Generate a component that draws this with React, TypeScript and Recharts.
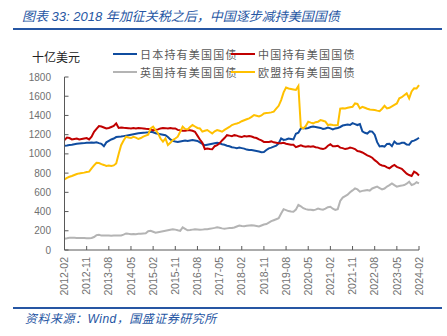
import { LineChart, Line, XAxis, YAxis } from 'recharts';

// monthly, 2012-02 .. 2024-02
const startYear = 2012;
const startMonth = 2;
const monthCount = 145;

const months: string[] = [];
for (let i = 0; i < monthCount; i++) {
  const m = startMonth - 1 + i;
  const y = startYear + Math.floor(m / 12);
  months.push(`${y}-${String((m % 12) + 1).padStart(2, '0')}`);
}

const japan = [
  1085, 1088, 1092, 1095, 1100, 1105, 1108, 1110, 1112, 1115, 1117,
  1118, 1115, 1120, 1112, 1105, 1080, 1120, 1135, 1150, 1160, 1175, 1178,
  1180, 1185, 1190, 1195, 1200, 1205, 1210, 1215, 1218, 1220, 1222, 1225,
  1230, 1225, 1215, 1210, 1205, 1200, 1195, 1175, 1150, 1135, 1128, 1125,
  1130, 1135, 1140, 1135, 1140, 1145, 1140, 1135, 1120, 1105, 1090, 1095,
  1100, 1105, 1110, 1115, 1110, 1100, 1095, 1085, 1080, 1070, 1065, 1060,
  1065, 1060, 1055, 1045, 1040, 1040, 1035, 1030, 1025, 1018, 1020, 1040,
  1058, 1065, 1075, 1085, 1110, 1160, 1145, 1150, 1160, 1155, 1150, 1210,
  1220, 1265, 1270, 1265, 1270, 1280, 1285, 1280, 1275, 1270, 1260, 1265,
  1275, 1265, 1255, 1265, 1270, 1280, 1295, 1300, 1305, 1300, 1320, 1310,
  1300, 1310, 1235, 1220, 1212, 1235, 1232, 1200, 1122, 1078, 1082, 1076,
  1104, 1106, 1081, 1128, 1106, 1105, 1116, 1115, 1097, 1095, 1131, 1138,
  1150, 1168,
];

const china = [
  1145, 1170, 1165, 1150, 1155, 1160, 1150, 1155, 1160, 1165, 1150,
  1180, 1230, 1260, 1290, 1285, 1275, 1265, 1270, 1280, 1290, 1317, 1270,
  1275, 1272, 1270, 1268, 1265, 1268, 1265, 1270, 1268, 1265, 1262, 1260,
  1255, 1245, 1250, 1255, 1265, 1270, 1268, 1265, 1270, 1265, 1265, 1250,
  1245, 1240, 1240, 1245, 1245, 1240, 1230, 1190, 1150, 1115, 1050, 1055,
  1050, 1048, 1080, 1090, 1110, 1140, 1165, 1195, 1190, 1185, 1195, 1190,
  1180, 1175, 1185, 1180, 1185, 1180, 1170, 1165, 1150, 1140, 1125, 1125,
  1125, 1130, 1120, 1115, 1110, 1110, 1115, 1105, 1100, 1095, 1095, 1070,
  1080, 1090, 1080, 1075, 1080, 1075, 1080, 1070, 1065, 1055, 1050, 1060,
  1085, 1100, 1080, 1080, 1085, 1065, 1060, 1050, 1055, 1065, 1060, 1050,
  1030, 1025, 1015, 1000, 985, 975, 960, 935, 915, 890, 880, 875,
  860, 850, 870, 885, 865, 855, 845, 820, 795, 780, 770, 815,
  800, 775,
];

const uk = [
  118, 122, 127, 128, 127, 126, 126, 125, 124, 123, 122,
  125, 135, 155, 158, 150, 152, 150, 150, 148, 150, 152, 150,
  152, 160, 172, 168, 165, 167, 165, 168, 170, 172, 173, 195,
  200, 190, 180, 185, 190, 195, 200, 205, 210, 215, 212, 205,
  200, 235, 220, 205, 208, 212, 215, 213, 210, 212, 215, 215,
  220, 225, 230, 236, 232, 225, 222, 225, 228, 230, 235, 245,
  255, 250, 248, 252, 255, 258, 255, 250, 245, 255, 265, 270,
  285, 300, 310, 320, 330, 380, 425, 415, 405, 400, 398, 420,
  470, 455, 435, 425, 420, 418, 415, 420, 432, 425, 420, 430,
  445, 450, 430, 418, 425, 510, 545, 560, 575, 600, 620, 641,
  630, 607, 615, 620, 625, 618, 640, 650, 659, 645, 631, 640,
  660, 675, 693, 675, 659, 665, 670, 676, 690, 711, 676, 685,
  705, 693,
];

const eu = [
  735, 750, 762, 770, 780, 790, 797, 800, 805, 811, 815,
  849, 880, 908, 905, 894, 885, 874, 878, 875, 880, 901, 1000,
  1090, 1140, 1178, 1170, 1165, 1178, 1170, 1155, 1165, 1180, 1190, 1200,
  1265, 1283, 1248, 1213, 1160, 1127, 1160, 1092, 1115, 1144, 1160, 1179,
  1230, 1283, 1260, 1255, 1280, 1300, 1285, 1270, 1265, 1231, 1240, 1248,
  1230, 1213, 1235, 1248, 1240, 1231, 1250, 1265, 1280, 1300, 1310, 1317,
  1325, 1340, 1350, 1360, 1370, 1385, 1404, 1397, 1390, 1400, 1421, 1425,
  1428, 1432, 1440, 1470, 1500, 1560, 1640, 1690, 1680, 1675, 1670, 1665,
  1706, 1280, 1265, 1290, 1335, 1325, 1318, 1330, 1335, 1352, 1345, 1335,
  1300, 1305, 1300, 1298, 1300, 1470, 1475, 1473, 1480, 1485, 1490, 1525,
  1520, 1473, 1490, 1480, 1470, 1462, 1458, 1456, 1450, 1445, 1470, 1500,
  1473, 1480, 1495, 1510, 1525, 1578, 1590, 1610, 1630, 1578, 1650, 1682,
  1680, 1716,
];

const yTicks = [0, 200, 400, 600, 800, 1000, 1200, 1400, 1600, 1800];

const series = [
  { key: 'japan', name: '日本持有美国国债', color: '#0f4c9f' },
  { key: 'china', name: '中国持有美国国债', color: '#c00000' },
  { key: 'uk', name: '英国持有美国国债', color: '#b4b4b4' },
  { key: 'eu', name: '欧盟持有美国国债', color: '#ffc000' },
];

const data = months.map((m, i) => ({
  month: m,
  japan: japan[i],
  china: china[i],
  uk: uk[i],
  eu: eu[i],
}));

const FONT = '"Liberation Sans", Arial, "Noto Sans CJK SC", sans-serif';
const BLUE = '#2656a3';

const XTick = (props: any) => {
  const { x, y, payload } = props;
  return (
    <text
      x={x}
      y={y}
      transform={`rotate(-90 ${x} ${y})`}
      textAnchor="end"
      dy="0.35em"
      fontSize={10.5}
      fill="#707070"
      fontFamily={FONT}
    >
      {payload.value}
    </text>
  );
};

export default function App() {
  return (
    <div
      style={{
        position: 'absolute',
        left: 0,
        top: 0,
        width: 447,
        height: 336,
        background: '#fff',
        fontFamily: FONT,
      }}
    >
      <div
        style={{
          position: 'absolute',
          left: 22,
          top: 6,
          fontSize: 13,
          fontStyle: 'italic',
          color: BLUE,
          whiteSpace: 'pre',
        }}
      >
        图表 33: 2018 年加征关税之后，中国逐步减持美国国债
      </div>
      <div style={{ position: 'absolute', left: 13, top: 28, width: 429, height: 2, background: BLUE }} />

      <div style={{ position: 'absolute', left: 32, top: 48, fontSize: 12, color: '#222', whiteSpace: 'nowrap' }}>
        十亿美元
      </div>

      {series.map((s, i) => (
        <div
          key={s.key}
          style={{
            position: 'absolute',
            left: i % 2 === 0 ? 113 : 231,
            top: i < 2 ? 47 : 65,
            display: 'flex',
            alignItems: 'center',
            height: 14,
            whiteSpace: 'nowrap',
          }}
        >
          <div style={{ width: 24, height: 2, background: s.color }} />
          <span style={{ marginLeft: 3, fontSize: 11, letterSpacing: 1.2, color: '#595959' }}>{s.name}</span>
        </div>
      ))}

      <div style={{ position: 'absolute', left: 0, top: 0 }}>
        <LineChart width={447} height={336} data={data} margin={{ top: 77, right: 28, bottom: 36, left: 14.5 }}>
          <XAxis
            dataKey="month"
            interval={8}
            height={50}
            tick={<XTick />}
            tickSize={-4}
            tickMargin={11}
            stroke="#595959"
            axisLine={{ stroke: '#595959' }}
            tickLine={{ stroke: '#595959' }}
          />
          <YAxis
            domain={[0, 1800]}
            ticks={yTicks}
            width={50}
            tickSize={-4}
            tickMargin={17.5}
            interval={0}
            tick={{ fontSize: 10, fill: '#707070', fontFamily: FONT }}
            axisLine={{ stroke: '#595959' }}
            tickLine={{ stroke: '#595959' }}
          />
          {series.map((s) => (
            <Line
              key={s.key}
              dataKey={s.key}
              name={s.name}
              stroke={s.color}
              strokeWidth={2}
              dot={false}
              type="linear"
              isAnimationActive={false}
            />
          ))}
        </LineChart>
      </div>

      <div style={{ position: 'absolute', left: 13, top: 307, width: 429, height: 2, background: BLUE }} />
      <div
        style={{
          position: 'absolute',
          left: 25,
          top: 309,
          fontSize: 12,
          fontStyle: 'italic',
          color: BLUE,
          whiteSpace: 'nowrap',
          letterSpacing: 0.5,
        }}
      >
        资料来源：Wind，国盛证券研究所
      </div>
    </div>
  );
}
